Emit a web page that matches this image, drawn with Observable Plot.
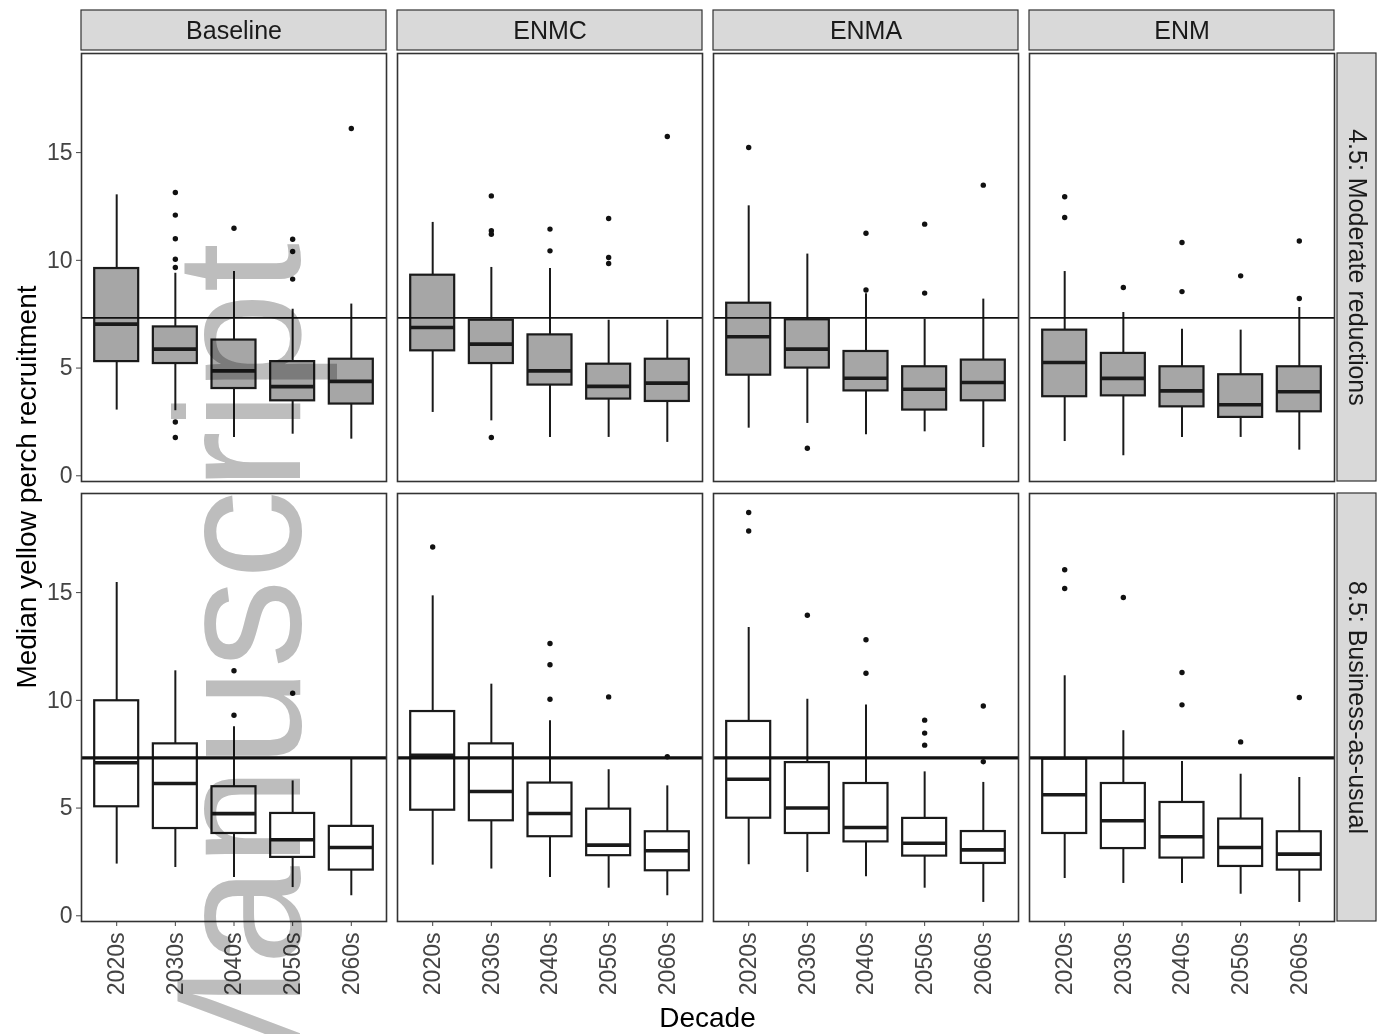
<!DOCTYPE html>
<html><head><meta charset="utf-8">
<script src="https://cdn.jsdelivr.net/npm/d3@7"></script>
<script src="https://cdn.jsdelivr.net/npm/@observablehq/plot@0.6"></script>
<style>body{margin:0;background:#fff;}</style>
</head><body><div id="chart"></div>
<script>
const models = ["Baseline", "ENMC", "ENMA", "ENM"];
const scenarios = ["4.5: Moderate reductions", "8.5: Business-as-usual"];
const decades = ["2020s", "2030s", "2040s", "2050s", "2060s"];
const referenceLevel = 7.33;
const yTicks = [0, 5, 10, 15];

// Scenario 4.5 — rows: Baseline, ENMC, ENMA, ENM; columns: decades
const lower45 = [
  [3.05, 3.02, 1.78, 1.93, 1.70],
  [2.94, 2.55, 1.78, 1.78, 1.55],
  [2.21, 2.43, 1.90, 2.04, 1.31],
  [1.59, 0.93, 1.78, 1.78, 1.19]];
const q1_45 = [
  [5.30, 5.21, 4.05, 3.48, 3.33],
  [5.80, 5.21, 4.21, 3.56, 3.45],
  [4.67, 5.00, 3.94, 3.05, 3.48],
  [3.67, 3.71, 3.20, 2.71, 2.97]];
const median45 = [
  [7.04, 5.88, 4.87, 4.14, 4.38],
  [6.88, 6.11, 4.87, 4.15, 4.30],
  [6.45, 5.88, 4.53, 4.02, 4.33],
  [5.26, 4.52, 3.94, 3.30, 3.90]];
const q3_45 = [
  [9.62, 6.91, 6.30, 5.30, 5.41],
  [9.31, 7.22, 6.54, 5.18, 5.41],
  [8.01, 7.24, 5.77, 5.06, 5.37],
  [6.76, 5.68, 5.06, 4.69, 5.06]];
const upper45 = [
  [13.04, 9.40, 9.48, 7.73, 7.97],
  [11.76, 9.67, 9.62, 7.22, 7.22],
  [12.53, 10.29, 8.45, 7.27, 8.20],
  [9.48, 7.58, 6.80, 6.76, 7.81]];
const outliers45 = [
  [[], [13.15, 12.1, 11.0, 10.05, 9.67, 2.5, 1.78], [11.49], [10.98, 10.41, 9.13], [16.12]],
  [[], [12.99, 11.37, 11.21, 1.78], [11.45, 10.44], [11.94, 10.13, 9.85], [15.75]],
  [[15.24], [1.28], [11.26, 8.62], [11.68, 8.48], [13.49]],
  [[12.95, 11.99], [8.74], [10.83, 8.55], [9.28], [10.90, 8.23]]];

// Scenario 8.5
const lower85 = [
  [2.40, 2.24, 1.78, 1.31, 0.93],
  [2.35, 2.17, 1.78, 1.28, 0.93],
  [2.37, 2.01, 1.81, 1.28, 0.62],
  [1.73, 1.50, 1.50, 1.00, 0.62]];
const q1_85 = [
  [5.06, 4.05, 3.82, 2.71, 2.12],
  [4.90, 4.41, 3.67, 2.79, 2.09],
  [4.53, 3.82, 3.43, 2.77, 2.43],
  [3.82, 3.12, 2.68, 2.29, 2.12]];
const median85 = [
  [7.10, 6.14, 4.74, 3.53, 3.17],
  [7.45, 5.77, 4.75, 3.28, 3.02],
  [6.34, 5.00, 4.10, 3.37, 3.06],
  [5.62, 4.41, 3.67, 3.17, 2.86]];
const q3_85 = [
  [9.98, 7.98, 5.99, 4.75, 4.15],
  [9.48, 7.98, 6.16, 4.95, 3.90],
  [9.02, 7.11, 6.14, 4.52, 3.91],
  [7.27, 6.14, 5.26, 4.49, 3.90]];
const upper85 = [
  [15.47, 11.37, 8.77, 6.26, 7.32],
  [14.85, 10.75, 9.05, 6.78, 6.03],
  [13.38, 10.05, 9.78, 6.68, 6.19],
  [11.14, 8.59, 7.16, 6.57, 6.42]];
const outliers85 = [
  [[], [], [11.37, 9.31], [10.33], []],
  [[17.12], [], [12.64, 11.65, 10.05], [10.16], [7.38]],
  [[18.72, 17.86], [13.95], [12.81, 11.26], [9.08, 8.48, 7.92], [9.74, 7.15]],
  [[16.06, 15.19], [14.77], [11.29, 9.79], [8.07], [10.13]]];

// ---- build tables for Plot ----
const statSets = [
  [lower45, q1_45, median45, q3_45, upper45, outliers45],
  [lower85, q1_85, median85, q3_85, upper85, outliers85]];
const boxes = [], points = [];
scenarios.forEach((s, si) => {
  const [lo, q1, md, q3, hi, out] = statSets[si];
  models.forEach((m, mi) => {
    decades.forEach((d, di) => {
      boxes.push({scenario: s, model: m, i: di + 1, lower: lo[mi][di], q1: q1[mi][di],
        median: md[mi][di], q3: q3[mi][di], upper: hi[mi][di]});
      out[mi][di].forEach(v => points.push({scenario: s, model: m, i: di + 1, value: v}));
    });
  });
});
const refs = scenarios.flatMap(s => models.map(m => ({scenario: s, model: m, value: referenceLevel})));
const topStrips = models.map(m => ({scenario: scenarios[0], model: m}));
const rightStrips = scenarios.map(s => ({scenario: s, model: models[models.length - 1]}));

const xDomain = [0.4, 5.6];
const yDomain = [-0.265, 19.6];
const half = 0.375;
const ink = "#1a1a1a";
const f = {fx: "model", fy: "scenario"};

const chart = Plot.plot({
  width: 1389, height: 1034,
  marginLeft: 80, marginRight: 54, marginTop: 53, marginBottom: 113,
  style: {fontFamily: "'Liberation Sans', Arial, sans-serif", background: "white", color: "black"},
  fx: {domain: models, paddingInner: 0.0335, paddingOuter: 0, axis: null},
  fy: {domain: scenarios, paddingInner: 0.0273, paddingOuter: 0, axis: null},
  x: {domain: xDomain},
  y: {domain: yDomain},
  marks: [
    // strips
    Plot.rect(topStrips, {...f, x1: xDomain[0], x2: xDomain[1], y1: yDomain[1], y2: yDomain[1],
      insetTop: -43, insetBottom: 3, fill: "#d9d9d9", stroke: "#333", strokeWidth: 1.2}),
    Plot.text(topStrips, {...f, x: (xDomain[0] + xDomain[1]) / 2, y: yDomain[1], dy: -23,
      text: "model", fontSize: 25, fill: ink}),
    Plot.rect(rightStrips, {...f, x1: xDomain[1], x2: xDomain[1], y1: yDomain[0], y2: yDomain[1],
      insetLeft: 3, insetRight: -42, fill: "#d9d9d9", stroke: "#333", strokeWidth: 1.2}),
    Plot.text(rightStrips, {...f, x: xDomain[1], y: (yDomain[0] + yDomain[1]) / 2, dx: 22.5,
      rotate: 90, text: "scenario", fontSize: 25, fill: ink}),
    // whiskers
    Plot.ruleX(boxes, {...f, x: "i", y1: "lower", y2: "q1", stroke: ink, strokeWidth: 2}),
    Plot.ruleX(boxes, {...f, x: "i", y1: "q3", y2: "upper", stroke: ink, strokeWidth: 2}),
    // boxes
    Plot.rect(boxes.filter(d => d.scenario === scenarios[0]), {...f, x1: d => d.i - half, x2: d => d.i + half,
      y1: "q1", y2: "q3", fill: "#a6a6a6", stroke: ink, strokeWidth: 2.2}),
    Plot.rect(boxes.filter(d => d.scenario === scenarios[1]), {...f, x1: d => d.i - half, x2: d => d.i + half,
      y1: "q1", y2: "q3", fill: "white", stroke: ink, strokeWidth: 2.2}),
    Plot.ruleY(boxes, {...f, x1: d => d.i - half, x2: d => d.i + half, y: "median", stroke: ink, strokeWidth: 3.6}),
    // outliers
    Plot.dot(points, {...f, x: "i", y: "value", r: 2.7, fill: "#111", stroke: null}),
    // reference line
    Plot.ruleY(refs.filter(d => d.scenario === scenarios[0]), {...f, y: "value", stroke: "#111", strokeWidth: 1.6}),
    Plot.ruleY(refs.filter(d => d.scenario === scenarios[1]), {...f, y: "value", stroke: "#111", strokeWidth: 3.2}),
    // panel border
    Plot.frame({stroke: "#333", strokeWidth: 1.6}),
    // axes
    Plot.axisX({ticks: [1, 2, 3, 4, 5], tickFormat: i => decades[i - 1], tickRotate: -90,
      tickSize: 5, tickPadding: 6, fontSize: 23, color: "#444", label: null}),
    Plot.axisY({ticks: yTicks, tickSize: 5, tickPadding: 4, fontSize: 23, color: "#444", label: null})
  ]
});
document.getElementById("chart").appendChild(chart);

const svg = d3.select(chart);
svg.append("text")
  .attr("transform", "translate(36,487) rotate(-90)")
  .attr("text-anchor", "middle")
  .attr("font-size", 28)
  .attr("fill", "black")
  .text("Median yellow perch recruitment");
svg.append("text")
  .attr("x", 707.5).attr("y", 1027)
  .attr("text-anchor", "middle")
  .attr("font-size", 28)
  .attr("fill", "black")
  .text("Decade");
// watermark
svg.append("text")
  .attr("transform", "translate(300,243) rotate(-90)")
  .attr("text-anchor", "end")
  .attr("font-size", 178)
  .attr("fill", "#bdbdbd")
  .style("mix-blend-mode", "multiply")
  .style("pointer-events", "none")
  .text("Manuscript");
</script>
</body></html>
